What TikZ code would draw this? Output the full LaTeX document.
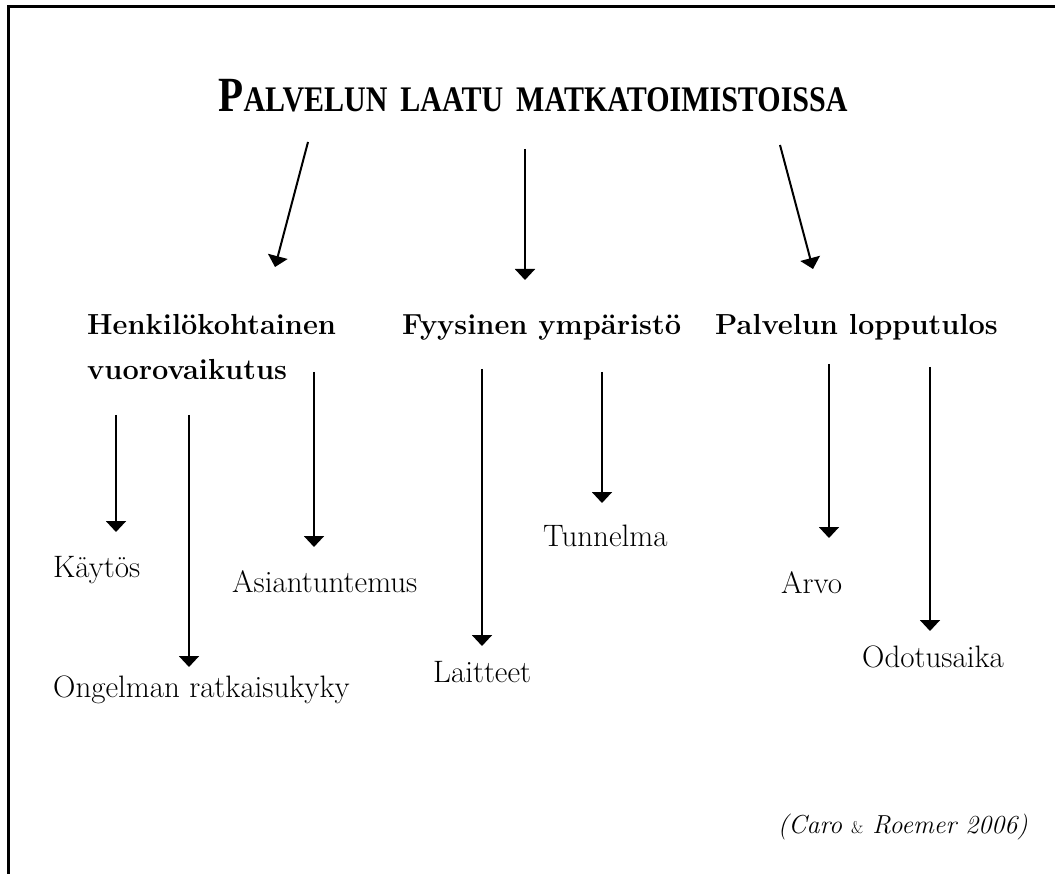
\documentclass[tikz,border=0pt]{standalone}
\usepackage{fontspec}
\usetikzlibrary{arrows.meta}
\newfontfamily\titlefont{Liberation Serif}
\begin{document}
\begin{tikzpicture}[x=1pt,y=-1pt,
  arr/.style={line width=2pt,-{Triangle[width=20pt,length=11pt]}},
  head/.style={anchor=base west,inner sep=0pt,font=\fontsize{29}{45}\selectfont\bfseries,align=left},
  leaf/.style={anchor=base west,inner sep=0pt,font=\fontsize{31}{36}\selectfont},
  frame/.style={line width=3pt}]
\useasboundingbox (0,0) rectangle (1055,874);
\draw[frame] (8.5,874) -- (8.5,7) -- (1055,7);

% title
\node[anchor=base,inner sep=0pt] (title) at (533,112)
  {\scalebox{1}[1.2]{\titlefont\bfseries\fontsize{41}{41}\selectfont P\fontsize{30}{31}\selectfont ALVELUN\hspace{13pt}LAATU\hspace{13pt}MATKATOIMISTOISSA}};

% headings
\node[head] (h1) at (87,380) {Henkilökohtainen\\vuorovaikutus};
\node[head] (h2) at (402,335) {Fyysinen ympäristö};
\node[head] (h3) at (715,335) {Palvelun lopputulos};

% leaves
\node[leaf] (l1) at (53,577) {Käytös};
\node[leaf] (l2) at (53,697) {Ongelman ratkaisukyky};
\node[leaf] (l3) at (232,592) {Asiantuntemus};
\node[leaf] (l4) at (433,682) {Laitteet};
\node[leaf] (l5) at (543,546) {Tunnelma};
\node[leaf] (l6) at (781,593) {Arvo};
\node[leaf] (l7) at (862,667) {Odotusaika};

\node[anchor=base east,inner sep=0pt,font=\fontsize{26}{30}\selectfont\itshape] (cite) at (1028,833)
  {(Caro {\upshape\fontsize{17}{20}\selectfont\&} Roemer 2006)};

% arrow end points
\coordinate (t1s) at (308,142); \coordinate (t1e) at (275,267);
\coordinate (t2s) at (525,149); \coordinate (t2e) at (525,280);
\coordinate (t3s) at (780,145); \coordinate (t3e) at (813,269);

\coordinate (a1s) at (116,415); \coordinate (a1e) at (116,532);
\coordinate (a2s) at (189,415); \coordinate (a2e) at (189,667);
\coordinate (a3s) at (314,372); \coordinate (a3e) at (314,547);
\coordinate (a4s) at (482,369); \coordinate (a4e) at (482,646);
\coordinate (a5s) at (602,372); \coordinate (a5e) at (602,503);
\coordinate (a6s) at (829,364); \coordinate (a6e) at (829,538);
\coordinate (a7s) at (930,367); \coordinate (a7e) at (930,631);

\draw[arr] (t1s) -- (t1e);
\draw[arr] (t2s) -- (t2e);
\draw[arr] (t3s) -- (t3e);
\draw[arr] (a1s) -- (a1e);
\draw[arr] (a2s) -- (a2e);
\draw[arr] (a3s) -- (a3e);
\draw[arr] (a4s) -- (a4e);
\draw[arr] (a5s) -- (a5e);
\draw[arr] (a6s) -- (a6e);
\draw[arr] (a7s) -- (a7e);
\end{tikzpicture}
\end{document}
